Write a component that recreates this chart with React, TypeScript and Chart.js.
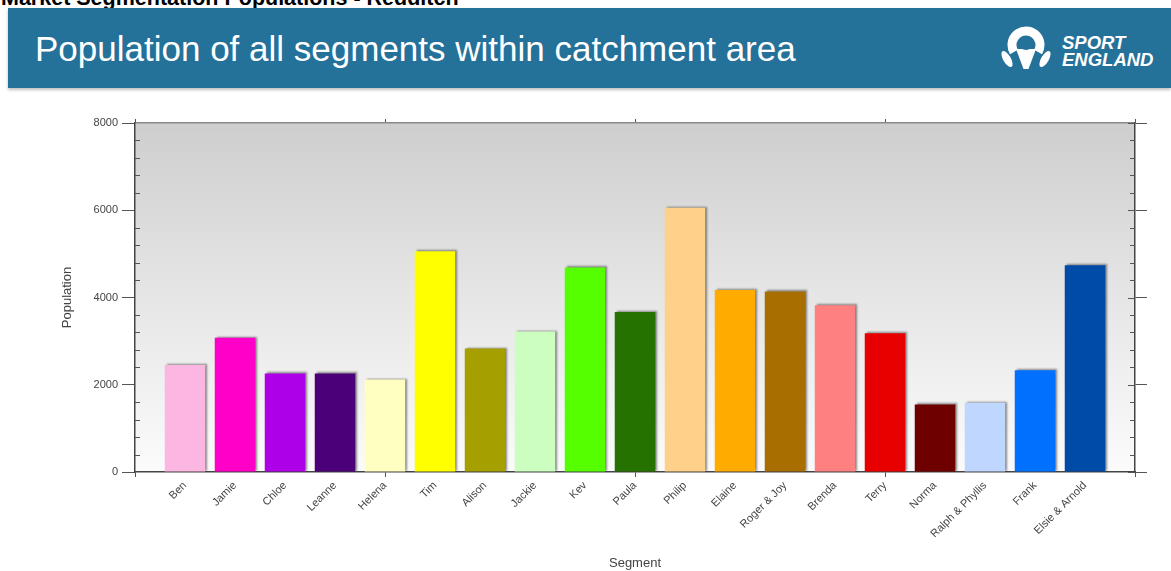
import React, { useEffect, useRef } from 'react';
import { Chart, registerables } from 'chart.js';

Chart.register(...registerables);

const pageTitle = 'Market Segmentation Populations - Redditch';
const bannerTitle = 'Population of all segments within catchment area';
const xAxisTitle = 'Segment';
const yAxisTitle = 'Population';

const segments = [
  'Ben', 'Jamie', 'Chloe', 'Leanne', 'Helena', 'Tim', 'Alison', 'Jackie', 'Kev', 'Paula',
  'Philip', 'Elaine', 'Roger & Joy', 'Brenda', 'Terry', 'Norma', 'Ralph & Phyllis', 'Frank', 'Elsie & Arnold',
];
const populations = [
  2450, 3080, 2260, 2260, 2120, 5060, 2830, 3220, 4690, 3670,
  6060, 4170, 4140, 3820, 3180, 1550, 1590, 2330, 4740,
];
const barColors = [
  '#fbb6e2', '#ff00c8', '#ae00e8', '#4b0079', '#ffffc2', '#ffff00', '#a69f00', '#ccffbf', '#55ff00', '#267200',
  '#ffd08a', '#ffab00', '#a86e00', '#ff8080', '#e80000', '#6e0000', '#bfd6ff', '#0070ff', '#004aa8',
];

const X_MIN = 0;
const X_MAX = 20;
const X_MAJOR = 5;
const Y_MIN = 0;
const Y_MAX = 8000;
const Y_MINOR = 400;
const Y_MAJOR = 2000;

const FONT = "'Liberation Sans', Arial, sans-serif";
const BANNER = '#247199';

const bgPlugin = {
  id: 'plotBg',
  beforeDraw(chart: any) {
    const { ctx, chartArea } = chart;
    if (!chartArea) return;
    const { left, top, right, bottom } = chartArea;
    const g = ctx.createLinearGradient(0, top, 0, bottom);
    g.addColorStop(0, '#cecece');
    g.addColorStop(0.5, '#e6e6e6');
    g.addColorStop(1, '#fbfbfb');
    ctx.save();
    ctx.fillStyle = g;
    ctx.fillRect(left, top, right - left, bottom - top);
    ctx.restore();
  },
};

const shadowPlugin = {
  id: 'barShadow',
  beforeDatasetsDraw(chart: any) {
    const c = chart.ctx;
    c.save();
    c.shadowColor = 'rgba(0,0,0,0.45)';
    c.shadowBlur = 2;
    c.shadowOffsetX = 2;
    c.shadowOffsetY = -1;
  },
  afterDatasetsDraw(chart: any) {
    chart.ctx.restore();
  },
};

const innerTicksPlugin = {
  id: 'innerTicks',
  afterDraw(chart: any) {
    const { ctx, chartArea } = chart;
    const y = chart.scales.y;
    const { left, right } = chartArea;
    ctx.save();
    ctx.strokeStyle = '#555';
    ctx.lineWidth = 1;
    y.ticks.forEach((t: any) => {
      const p = Math.round(y.getPixelForValue(t.value)) + 0.5;
      const major = t.value % Y_MAJOR === 0;
      ctx.beginPath();
      if (!major) {
        ctx.moveTo(left, p);
        ctx.lineTo(left + 5, p);
      }
      ctx.moveTo(right - (major ? 7 : 5), p);
      ctx.lineTo(right, p);
      ctx.stroke();
    });
    ctx.restore();
  },
};

function ChartView() {
  const ref = useRef<HTMLCanvasElement | null>(null);
  useEffect(() => {
    if (!ref.current) return;
    const chart = new Chart(ref.current, {
      type: 'bar',
      data: {
        datasets: [
          {
            data: populations.map((v, i) => ({ x: i + 1, y: v })),
            backgroundColor: barColors,
            borderWidth: 0,
            barPercentage: 0.81,
            categoryPercentage: 1,
            xAxisID: 'x',
            yAxisID: 'y',
          },
        ],
      },
      options: {
        animation: false,
        responsive: true,
        maintainAspectRatio: false,
        layout: { padding: { left: 56, right: 0, top: 0, bottom: 0 } },
        plugins: { legend: { display: false }, tooltip: { enabled: false } },
        scales: {
          x: {
            type: 'linear',
            position: 'bottom',
            min: X_MIN,
            max: X_MAX,
            offset: false,
            afterFit: (s: any) => { s.height = 99; },
            border: { color: '#444', width: 1.5 },
            grid: {
              offset: false,
              drawOnChartArea: false,
              tickLength: 5,
              color: (c: any) => (c.tick && c.tick.value % X_MAJOR === 0 ? '#555' : 'rgba(0,0,0,0)'),
            },
            ticks: {
              stepSize: 1,
              autoSkip: false,
              minRotation: 45,
              maxRotation: 45,
              padding: 2,
              color: '#444',
              font: { family: FONT, size: 11 },
              callback: (v: any) => segments[Number(v) - 1] ?? '',
            },
            title: {
              display: true,
              text: xAxisTitle,
              color: '#444',
              font: { family: FONT, size: 13 },
              padding: { top: 4, bottom: 0 },
            },
          },
          x2: {
            type: 'linear',
            position: 'top',
            min: X_MIN,
            max: X_MAX,
            offset: false,
            afterFit: (s: any) => { s.height = 123; },
            border: { color: '#8a8a8a', width: 1.5 },
            grid: { offset: false, drawOnChartArea: false, tickLength: 4, color: '#555' },
            ticks: { stepSize: X_MAJOR, display: false },
          },
          y: {
            type: 'linear',
            position: 'left',
            min: Y_MIN,
            max: Y_MAX,
            afterFit: (s: any) => { s.width = 79; },
            border: { color: '#444', width: 1.5 },
            grid: {
              drawOnChartArea: false,
              tickLength: 13,
              color: (c: any) => (c.tick && c.tick.value % Y_MAJOR === 0 ? '#555' : 'rgba(0,0,0,0)'),
            },
            ticks: {
              stepSize: Y_MINOR,
              autoSkip: false,
              padding: 4,
              color: '#444',
              font: { family: FONT, size: 11 },
              callback: (v: any) => (Number(v) % Y_MAJOR === 0 ? String(v) : ''),
            },
            title: {
              display: true,
              text: yAxisTitle,
              color: '#444',
              font: { family: FONT, size: 13 },
              padding: { top: 4, bottom: 4 },
            },
          },
          y2: {
            type: 'linear',
            position: 'right',
            min: Y_MIN,
            max: Y_MAX,
            afterFit: (s: any) => { s.width = 36; },
            border: { color: '#444', width: 1.5 },
            grid: {
              drawOnChartArea: false,
              tickLength: 12,
              color: (c: any) => (c.tick && c.tick.value % Y_MAJOR === 0 ? '#555' : 'rgba(0,0,0,0)'),
            },
            ticks: { stepSize: Y_MINOR, display: false, autoSkip: false },
          },
        },
      } as any,
      plugins: [bgPlugin, shadowPlugin, innerTicksPlugin],
    });
    return () => chart.destroy();
  }, []);
  return (
    <div style={{ position: 'absolute', left: 0, top: 0, width: 1171, height: 571 }}>
      <canvas ref={ref} />
    </div>
  );
}

function Logo() {
  return (
    <svg width="56" height="48" viewBox="0 0 56 48" style={{ position: 'absolute', left: 999, top: 24 }}>
      <path d="M 14.9 28 A 14 14 0 1 1 39.1 28" stroke="#fff" strokeWidth="9" fill="none" />
      <path d="M 17 25 L 37 25 L 29.5 45 L 24.5 45 Z" fill="#fff" />
      <circle cx="27" cy="19" r="7" fill={BANNER} />
      <ellipse cx="8" cy="35" rx="3.8" ry="9" fill="#fff" transform="rotate(-30 8 35)" />
      <ellipse cx="46" cy="35" rx="3.8" ry="9" fill="#fff" transform="rotate(30 46 35)" />
    </svg>
  );
}

export default function App() {
  return (
    <div style={{ position: 'absolute', left: 0, top: 0, width: 1171, height: 571, overflow: 'hidden', background: '#fff' }}>
      <div
        style={{
          position: 'absolute', left: 1, top: -12, fontFamily: FONT, fontWeight: 'bold', fontSize: 21.5,
          lineHeight: '21.5px', color: '#000', whiteSpace: 'nowrap',
        }}
      >
        {pageTitle}
      </div>
      <div
        style={{
          position: 'absolute', left: 8, top: 8, width: 1163, height: 80, background: BANNER,
          boxShadow: '0 2px 3px rgba(0,0,0,0.25)',
        }}
      />
      <div
        style={{
          position: 'absolute', left: 35, top: 31, fontFamily: FONT, fontSize: 35, lineHeight: '35px',
          color: '#fff', whiteSpace: 'nowrap',
        }}
      >
        {bannerTitle}
      </div>
      <Logo />
      <div
        style={{
          position: 'absolute', left: 1062, top: 34, fontFamily: FONT, fontWeight: 'bold', fontStyle: 'italic',
          fontSize: 18.5, lineHeight: '17px', color: '#fff', whiteSpace: 'nowrap',
        }}
      >
        <div>SPORT</div>
        <div>ENGLAND</div>
      </div>
      <ChartView />
    </div>
  );
}
